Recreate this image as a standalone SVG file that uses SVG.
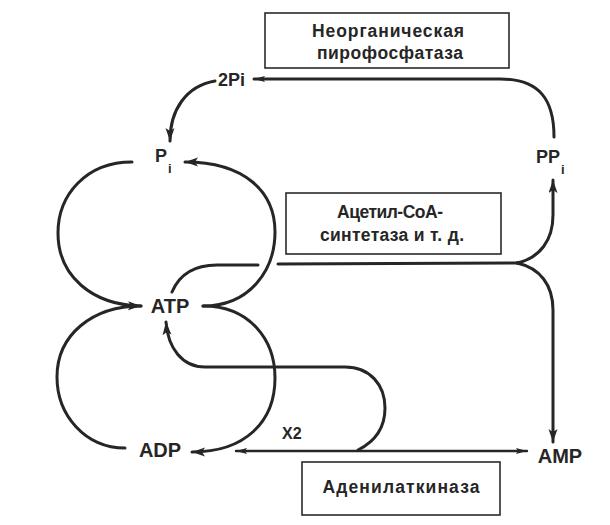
<svg xmlns="http://www.w3.org/2000/svg" width="610" height="525" viewBox="0 0 610 525">
<style>
  .bg{fill:#ffffff}
  .box{fill:#ffffff;stroke:#2a2a2a;stroke-width:1.6}
  .t{font-family:"Liberation Sans",Arial,sans-serif;font-weight:bold;fill:#262626}
  .bt{font-size:17.5px;text-anchor:middle}
  .lbl{font-size:20px;text-anchor:middle}
  .p{font-size:18px}
  .sm{font-size:16px}
  .sub{font-size:13px}
  .c{fill:none;stroke:#262626;stroke-width:3;stroke-linecap:round}
  .c2{fill:none;stroke:#262626;stroke-width:2.4;stroke-linecap:round}
</style>
<defs>
  <marker id="ah" markerUnits="userSpaceOnUse" markerWidth="14" markerHeight="10" refX="13" refY="4.5" orient="auto">
    <path d="M0,0 L13,4.5 L0,9 L3,4.5 z" fill="#262626"/>
  </marker>
  <marker id="ahs" markerUnits="userSpaceOnUse" markerWidth="12" markerHeight="8" refX="11" refY="3" orient="auto">
    <path d="M0,0 L11,3 L0,6 L2,3 z" fill="#262626"/>
  </marker>
</defs>
<rect class="bg" x="0" y="0" width="610" height="525"/>

<g id="connectors">
  <!-- left loops into ATP -->
  <path class="c" d="M132,162 C 86,162 58,195 58,233 C 58,276 92,305 141,306" marker-end="url(#ah)"/>
  <path class="c" d="M125,448 C 85,448 57,415 57,377 C 57,335 92,306 141,306"/>
  <!-- right loops from ATP -->
  <path class="c" d="M203,306 C 250,306 275,270 275,232 C 275,192 245,162 185,162" marker-end="url(#ah)"/>
  <path class="c" d="M203,306 C 250,306 275,340 275,378 C 275,422 245,452 192,452" marker-end="url(#ah)"/>
  <!-- ATP to acetyl-CoA synthetase junction -->
  <path class="c" d="M172,292 C 180,273 195,265 217,265 L 258,265"/>
  <path class="c" d="M278,264 L 517,263"/>
  <path class="c" d="M517,263 C 540,258 553,240 553,215 L 553,180" marker-end="url(#ah)"/>
  <path class="c" d="M517,263 C 540,268 553,285 553,310 L 553,442" marker-end="url(#ah)"/>
  <!-- PPi to 2Pi -->
  <path class="c" d="M554,137 C 554,100 540,79 500,79 L 254,79" marker-end="url(#ahs)"/>
  <!-- 2Pi to Pi -->
  <path class="c" d="M215,81 C 186,86 170,110 170,141" marker-end="url(#ah)"/>
  <!-- adenylate kinase -->
  <path class="c2" d="M236,451 L 527,451" marker-start="url(#ahs2)" marker-end="url(#ahs)"/>
  <path class="c" d="M358,450 C 378,440 385,425 385,408 C 385,385 370,367 345,367 L 205,367 C 182,367 168,348 166,322" marker-end="url(#ah)"/>
</g>
<defs>
  <marker id="ahs2" markerUnits="userSpaceOnUse" markerWidth="12" markerHeight="8" refX="11" refY="3" orient="auto-start-reverse">
    <path d="M0,0 L11,3 L0,6 L2,3 z" fill="#262626"/>
  </marker>
</defs>

<g id="box-pyrophosphatase">
  <rect class="box" x="265" y="13" width="244" height="55"/>
  <text class="t bt" x="388" y="37" textLength="152" lengthAdjust="spacing">Неорганическая</text>
  <text class="t bt" x="390" y="59" textLength="146" lengthAdjust="spacing">пирофосфатаза</text>
</g>
<g id="box-acetylcoa">
  <rect class="box" x="286" y="193" width="215" height="61"/>
  <text class="t bt" x="390" y="218" textLength="106" lengthAdjust="spacing">Ацетил-CoA-</text>
  <text class="t bt" x="392" y="241" textLength="144" lengthAdjust="spacing">синтетаза и т. д.</text>
</g>
<g id="box-adenylatekinase">
  <rect class="box" x="302" y="462" width="198" height="53"/>
  <text class="t bt" x="401" y="493" textLength="157" lengthAdjust="spacing">Аденилаткиназа</text>
</g>

<g id="node-2Pi"><text class="t p" x="218" y="86">2Pi</text></g>
<g id="node-Pi"><text class="t p" x="155" y="162">P</text><text class="t sub" x="168" y="173">i</text></g>
<g id="node-PPi"><text class="t p" x="536" y="163">PP</text><text class="t sub" x="561" y="174">i</text></g>
<g id="node-ATP"><text class="t lbl" x="170" y="313">ATP</text></g>
<g id="node-ADP"><text class="t lbl" x="160" y="457">ADP</text></g>
<g id="node-AMP"><text class="t lbl" x="560" y="463">AMP</text></g>
<g id="label-x2"><text class="t sm" x="282" y="439">X2</text></g>
</svg>
